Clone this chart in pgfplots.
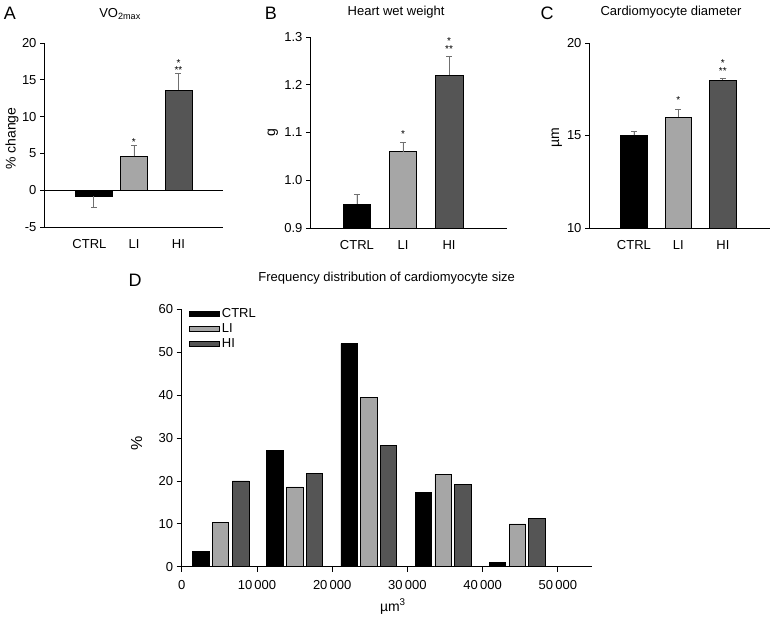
\documentclass[border=0pt]{standalone}
\usepackage{fontspec}
\setmainfont{Liberation Sans}
\usepackage{pgfplots}
\pgfplotsset{compat=1.18}

\definecolor{ligray}{HTML}{A6A6A6}
\definecolor{higray}{HTML}{555555}
\definecolor{errgray}{HTML}{707070}

\tikzset{star/.style={font=\fontsize{10}{5}\selectfont, inner sep=0pt, align=center}}

\pgfplotsset{
  every axis title shift=0pt,
  panel/.style={
    scale only axis,
    anchor=south west,
    axis x line=bottom, axis y line=left,
    axis line style={-, line width=0.8pt},
    tick align=outside, major tick length=4pt,
    tick style={line width=0.8pt, black},
    xtick style={draw=none},
    xtick={0,1,2}, xticklabels={CTRL,LI,HI},
    xticklabel style={yshift=-5pt},
    /pgf/number format/assume math mode=true,
    tick label style={font=\fontsize{13}{15}\selectfont},
    label style={font=\fontsize{14}{16}\selectfont},
    title style={font=\fontsize{13}{15}\selectfont, anchor=center, yshift=0pt},
    ylabel style={anchor=center},
    clip=false,
  },
  bx/.style={ybar, bar width=#1, draw=black, line width=0.6pt},
  eb/.style={error bars/.cd, y dir=#1, y explicit,
    error bar style={draw=errgray, line width=0.8pt},
    error mark options={rotate=90, mark size=3pt, errgray, line width=0.8pt}},
}

\begin{document}
\begin{tikzpicture}[x=1pt,y=1pt]
\useasboundingbox (0,0) rectangle (771,619);

% panel letters
\node[font=\fontsize{18}{20}\selectfont] at (10,606) {A};
\node[font=\fontsize{18}{20}\selectfont] at (271,606) {B};
\node[font=\fontsize{18}{20}\selectfont] at (547,606) {C};
\node[font=\fontsize{18}{20}\selectfont] at (135,339) {D};

% A
\begin{axis}[panel, at={(44pt,392pt)}, width=179pt, height=184pt,
  xmin=-1.02, xmax=3.0, ymin=-5, ymax=20, ytick={-5,0,5,10,15,20},
  ylabel={\% change},
  ylabel style={at={(axis description cs:-0.179,0.48)}},
  title={VO\textsubscript{2max}},
  title style={at={(axis description cs:0.425,1.158)}},
]
\addplot[black, line width=0.8pt, forget plot] coordinates {(-1.02,0) (3.0,0)};
\addplot[bx=0.83, fill=black, eb=minus] coordinates {(0.1,-0.77) +- (0,1.63)};
\addplot[bx=0.6, fill=ligray, eb=plus] coordinates {(1,4.6) +- (0,1.45)};
\addplot[bx=0.6, fill=higray, eb=plus] coordinates {(2,13.6) +- (0,2.3)};
\node[star] at (axis cs:1,6.6) {*};
\node[star] at (axis cs:2,16.8) {*\\**};
\end{axis}

% B
\begin{axis}[panel, at={(310pt,391pt)}, width=197pt, height=191pt,
  xmin=-1.02, xmax=3.26, ymin=0.9, ymax=1.3, ytick={0.9,1.0,1.1,1.2,1.3},
  yticklabel style={/pgf/number format/.cd, fixed, fixed zerofill, precision=1},
  ylabel={g},
  ylabel style={at={(axis description cs:-0.189,0.5)}},
  title={Heart wet weight},
  title style={at={(axis description cs:0.437,1.129)}},
]
\addplot[bx=0.6, fill=black, eb=plus] coordinates {(0,0.95) +- (0,0.02)};
\addplot[bx=0.6, fill=ligray, eb=plus] coordinates {(1,1.06) +- (0,0.02)};
\addplot[bx=0.6, fill=higray, eb=plus] coordinates {(2,1.22) +- (0,0.04)};
\node[star] at (axis cs:1,1.097) {*};
\node[star] at (axis cs:2,1.284) {*\\**};
\end{axis}

% C
\begin{axis}[panel, at={(589pt,391pt)}, width=181pt, height=185pt,
  xmin=-1.01, xmax=3.06, ymin=10, ymax=20, ytick={10,15,20},
  ylabel={µm},
  ylabel style={at={(axis description cs:-0.178,0.49)}},
  title={Cardiomyocyte diameter},
  title style={at={(axis description cs:0.453,1.168)}},
]
\addplot[bx=0.6, fill=black, eb=plus] coordinates {(0,15.0) +- (0,0.2)};
\addplot[bx=0.6, fill=ligray, eb=plus] coordinates {(1,16.0) +- (0,0.4)};
\addplot[bx=0.6, fill=higray, eb=plus] coordinates {(2,18.0) +- (0,0.1)};
\node[star] at (axis cs:1,16.9) {*};
\node[star] at (axis cs:2,18.72) {*\\**};
\end{axis}

% D
\begin{axis}[panel, at={(181.7pt,52.3pt)}, width=410pt, height=257.4pt,
  xmin=0, xmax=54500, ymin=0, ymax=60,
  scaled x ticks=false,
  xtick={0,10000,20000,30000,40000,50000},
  xticklabels={0,10\,000,20\,000,30\,000,40\,000,50\,000},
  xtick style={draw=black, line width=0.8pt},
  major tick length=5pt,
  xticklabel style={yshift=0pt},
  ytick={0,10,...,60},
  ylabel={\%},
  ylabel style={at={(axis description cs:-0.11,0.48)}, font=\fontsize{16}{18}\selectfont},
  xlabel={µm\textsuperscript{3}},
  xlabel style={at={(axis description cs:0.515,-0.155)}, anchor=center},
  title={Frequency distribution of cardiomyocyte size},
  title style={at={(axis description cs:0.5,1.12)}},
  legend style={draw=none, fill=none, inner sep=0pt, row sep=0.5pt,
    font=\fontsize{13}{15}\selectfont,
    at={(axis description cs:0.018,1.012)}, anchor=north west},
  legend cell align=left,
  legend image code/.code={\draw[#1, line width=0.6pt] (0pt,-2.5pt) rectangle (30pt,2.5pt);},
]
\addplot[bx=2200, fill=black] coordinates {
  (2520,3.5) (12405,27.2) (22265,52.0) (32130,17.3) (41970,1.0)};
\addlegendentry{CTRL}
\addplot[bx=2200, fill=ligray] coordinates {
  (5160,10.4) (15025,18.6) (24865,39.4) (34745,21.6) (44610,10.0)};
\addlegendentry{LI}
\addplot[bx=2200, fill=higray] coordinates {
  (7820,20.0) (17640,21.8) (27480,28.3) (37360,19.1) (47225,11.3)};
\addlegendentry{HI}
\end{axis}
\end{tikzpicture}
\end{document}
